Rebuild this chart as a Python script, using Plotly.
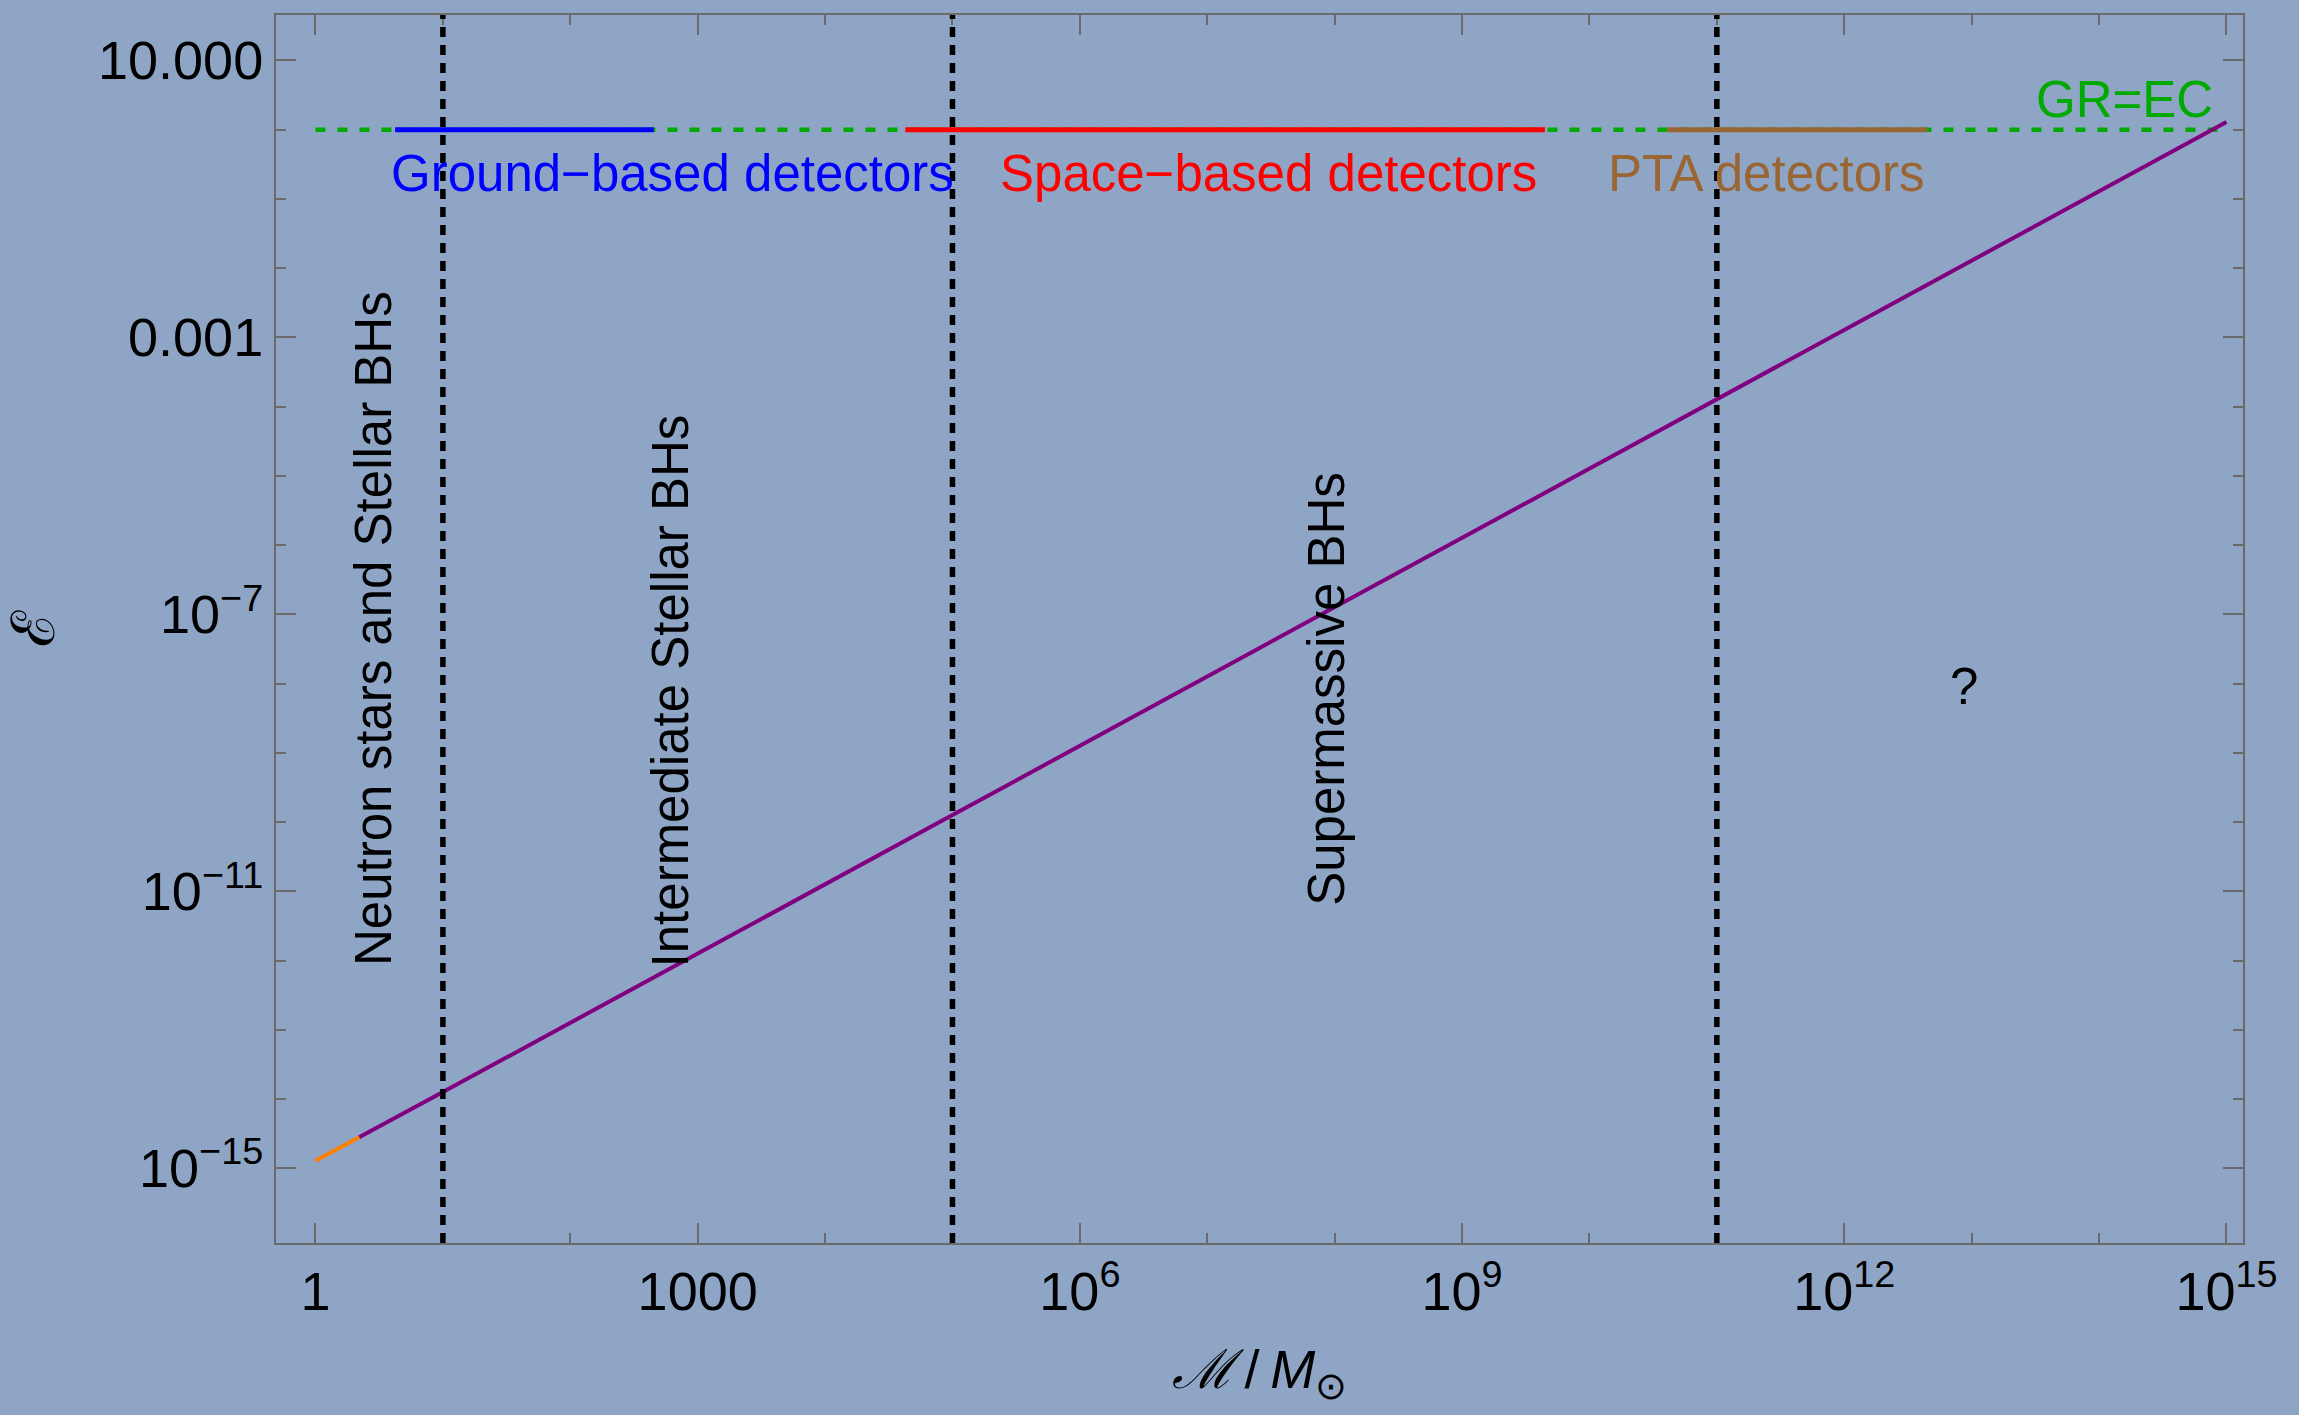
import numpy as np
import plotly.graph_objects as go

# ---------------- data ----------------
# purple relation epsilon(M)
mass_main = [2.2, 10, 1e5, 1e11, 1e15]
eps_main = [2.8e-15, 1.26e-14, 1.26e-10, 1.26e-4, 1.29]
# orange low-mass piece
mass_low = [1, 2.2]
eps_low = [1.28e-15, 2.8e-15]

# GR = EC reference level
gr_mass = [1, 1e15]
gr_eps = [1, 1]

# detector bands (mass ranges) at epsilon = 1
ground_mass = [10**0.625, 10**2.656]
space_mass = [10**4.63, 10**9.65]
pta_mass = [10**10.61, 10**12.65]
band_eps = [1, 1]

# region boundaries (vertical dashed lines)
boundaries = [1e1, 1e5, 1e11]

# axis ticks
x_major = [1, 1e3, 1e6, 1e9, 1e12, 1e15]
x_major_text = ["1", "1000", "10<sup>6</sup>", "10<sup>9</sup>", "10<sup>12</sup>", "10<sup>15</sup>"]
x_minor = [10.0**k for k in range(0, 16) if k % 3 != 0]
y_major = [10, 1e-3, 1e-7, 1e-11, 1e-15]
y_major_text = ["10.000", "0.001", "10<sup>\u22127</sup>", "10<sup>\u221211</sup>", "10<sup>\u221215</sup>"]
y_minor = [10.0**k for k in range(-15, 2) if k not in (1, -3, -7, -11, -15)]

# text labels: (text, mass, epsilon, colour, angle)
labels = [
    ("Ground\u2212based detectors", 10**2.8, 10**-0.63, "#0000FF", 0),
    ("Space\u2212based detectors", 10**7.48, 10**-0.63, "#FF0000", 0),
    ("PTA detectors", 10**11.39, 10**-0.63, "#996633", 0),
    ("GR=EC", 10**14.2, 10**0.43, "#00AA00", 0),
    ("?", 10**12.94, 10**-8.04, "black", 0),
    ("Neutron stars and Stellar BHs", 10**0.46, 10**-7.21, "black", -90),
    ("Intermediate Stellar BHs", 10**2.79, 10**-8.1, "black", -90),
    ("Supermassive BHs", 10**7.93, 10**-8.08, "black", -90),
]

BG = "#8FA5C5"
FONT = "Liberation Sans, Arial, sans-serif"
AX = "#6a6a6a"

fig = go.Figure()

fig.add_trace(go.Scatter(x=gr_mass, y=gr_eps, mode="lines",
                         line=dict(color="#00AA00", width=4.5, dash="10px,12px"),
                         hoverinfo="skip", showlegend=False))
for m, c in [(ground_mass, "#0000FF"), (space_mass, "#FF0000"), (pta_mass, "#996633")]:
    fig.add_trace(go.Scatter(x=m, y=band_eps, mode="lines",
                             line=dict(color=c, width=5),
                             showlegend=False))
fig.add_trace(go.Scatter(x=mass_main, y=eps_main, mode="lines",
                         line=dict(color="#800080", width=4), showlegend=False))
fig.add_trace(go.Scatter(x=mass_low, y=eps_low, mode="lines",
                         line=dict(color="#FF8000", width=4), showlegend=False))

for b in boundaries:
    fig.add_shape(type="line", xref="x", yref="y domain",
                  x0=b, x1=b, y0=0, y1=1,
                  line=dict(color="black", width=5.5, dash="10px,8px"))

for text, m, e, c, ang in labels:
    fig.add_annotation(x=np.log10(m), y=np.log10(e), text=text, showarrow=False,
                       textangle=ang, font=dict(family=FONT, size=51, color=c),
                       xanchor="center", yanchor="middle")

fig.update_layout(
    width=2299, height=1415,
    paper_bgcolor=BG, plot_bgcolor=BG,
    margin=dict(l=276, r=56, t=15, b=172),
    font=dict(family=FONT, size=54, color="black"),
    showlegend=False,
)

fig.update_xaxes(
    type="log", range=[-0.31, 15.13],
    showgrid=False, zeroline=False,
    showline=True, linecolor=AX, linewidth=2, mirror="allticks",
    ticks="inside", ticklen=20, tickwidth=2, tickcolor=AX,
    tickmode="array", tickvals=x_major, ticktext=x_major_text,
    tickfont=dict(family=FONT, size=54, color="black"),
    minor=dict(tickmode="array", tickvals=x_minor, ticks="inside",
               ticklen=10, tickwidth=2, tickcolor=AX, showgrid=False),
    title=dict(text="<i>\u2133</i>\u2009/\u2009<i>M</i><sub>\u2299</sub>",
               font=dict(family=FONT, size=54, color="black"), standoff=30),
)
fig.update_yaxes(
    type="log", range=[-16.08, 1.656],
    showgrid=False, zeroline=False,
    showline=True, linecolor=AX, linewidth=2, mirror="allticks",
    ticks="inside", ticklen=20, tickwidth=2, tickcolor=AX,
    tickmode="array", tickvals=y_major, ticktext=y_major_text,
    tickfont=dict(family=FONT, size=54, color="black"),
    minor=dict(tickmode="array", tickvals=y_minor, ticks="inside",
               ticklen=10, tickwidth=2, tickcolor=AX, showgrid=False),
    title=dict(text="\u2130", font=dict(family=FONT, size=60, color="black"),
               standoff=25),
)

fig.write_html("out.html",
               config={"displayModeBar": False},
               post_script="document.body.style.margin='0';"
                           "document.body.style.background='" + BG + "';")
